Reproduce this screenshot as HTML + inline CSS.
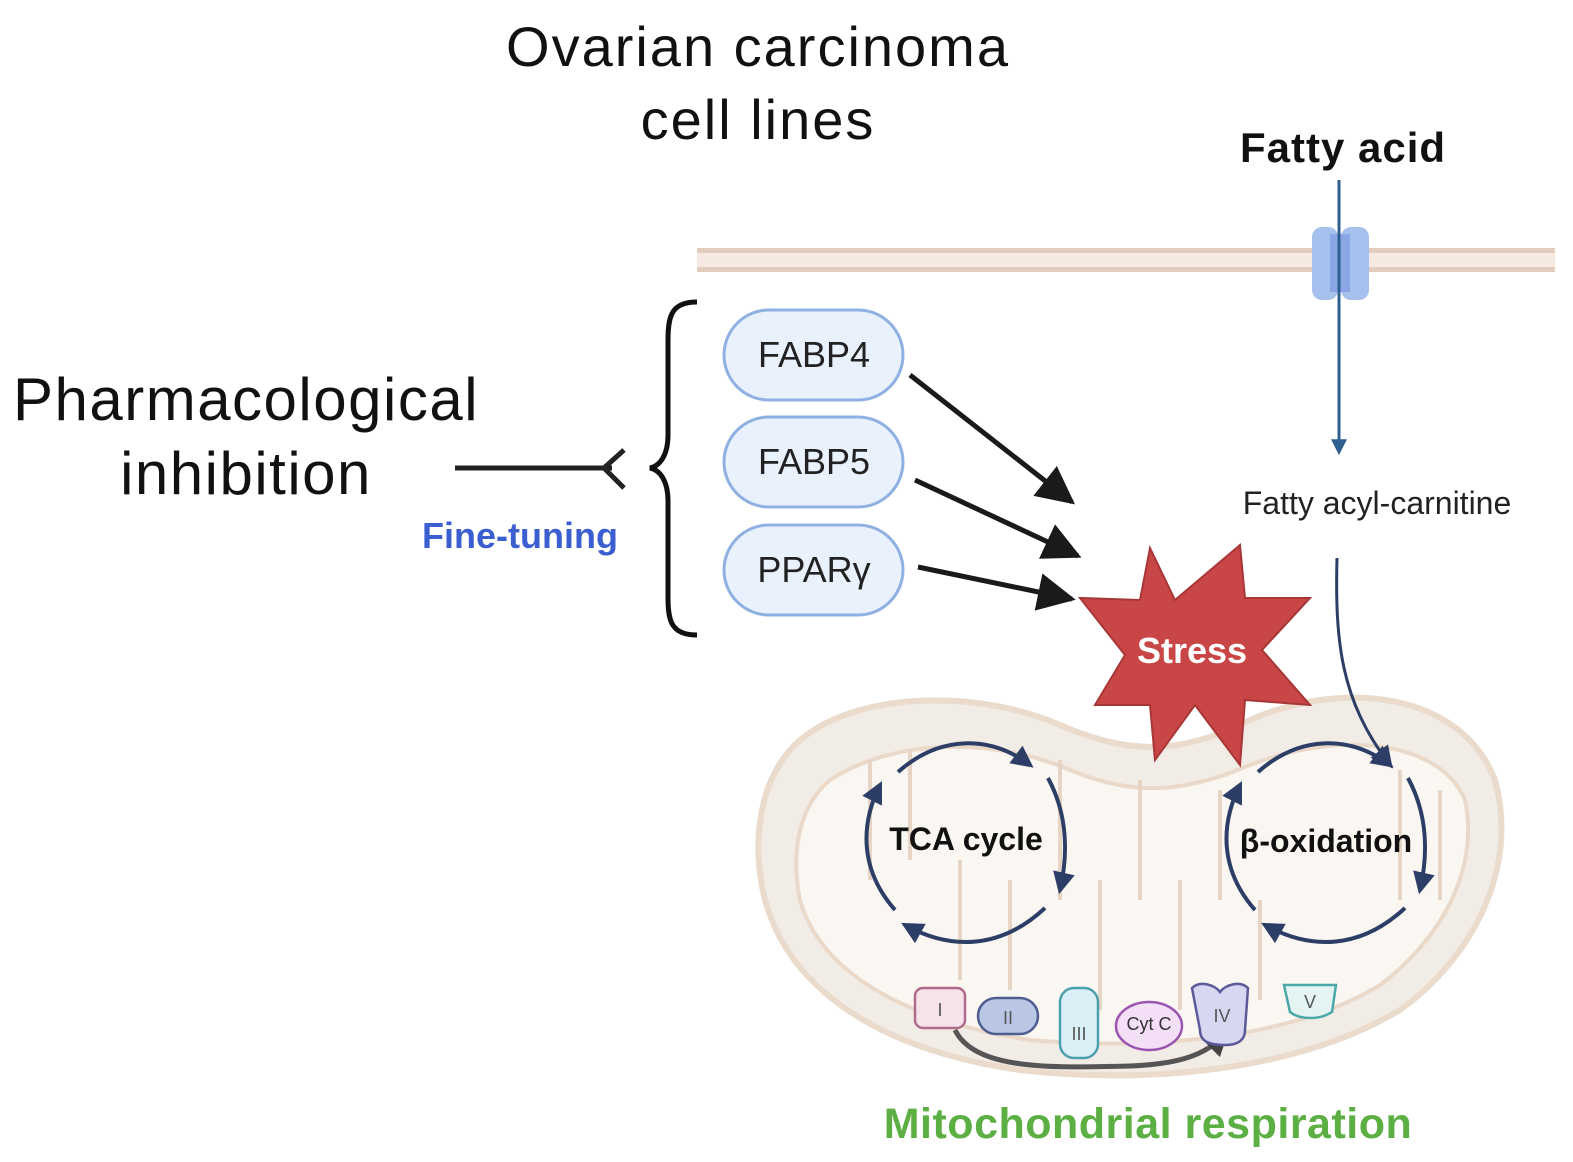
<!DOCTYPE html>
<html><head><meta charset="utf-8"><style>
body{margin:0;background:#fff}
svg{display:block}
text{font-family:"Liberation Sans","DejaVu Sans",sans-serif}
</style></head><body>
<svg width="1573" height="1162" viewBox="0 0 1573 1162" xmlns="http://www.w3.org/2000/svg">
<defs>
<marker id="big" viewBox="0 0 10 10" refX="9" refY="5" markerWidth="38" markerHeight="38" orient="auto" markerUnits="userSpaceOnUse"><path d="M0,0 L10,5 L0,10z" fill="#1a1a1a"/></marker>
<marker id="nv" viewBox="0 0 10 10" refX="8" refY="5" markerWidth="22" markerHeight="22" orient="auto" markerUnits="userSpaceOnUse"><path d="M0,0 L10,5 L0,10z" fill="#2c3e66"/></marker>
<marker id="bl" viewBox="0 0 10 10" refX="8" refY="5" markerWidth="16" markerHeight="16" orient="auto" markerUnits="userSpaceOnUse"><path d="M0,0 L10,5 L0,10z" fill="#2f5f8f"/></marker>
<marker id="gy" viewBox="0 0 10 10" refX="8" refY="5" markerWidth="24" markerHeight="24" orient="auto" markerUnits="userSpaceOnUse"><path d="M0,0 L10,5 L0,10z" fill="#444"/></marker>
</defs>

<text x="758" y="66" font-size="56" letter-spacing="2" text-anchor="middle" fill="#111">Ovarian carcinoma</text>
<text x="758" y="139" font-size="56" letter-spacing="2" text-anchor="middle" fill="#111">cell lines</text>
<text x="1343" y="162" font-size="42" font-weight="bold" letter-spacing="1" text-anchor="middle" fill="#111">Fatty acid</text>

<rect x="697" y="248" width="858" height="24" fill="#f6e9e2"/>
<rect x="697" y="248" width="858" height="5" fill="#e3cbbd"/>
<rect x="697" y="267" width="858" height="5" fill="#e3cbbd"/>
<rect x="1312" y="227" width="26" height="73" rx="10" fill="#a7c1ee"/>
<rect x="1341" y="227" width="28" height="73" rx="10" fill="#a7c1ee"/>
<rect x="1330" y="234" width="20" height="58" fill="#8aa6e6"/>
<line x1="1339" y1="180" x2="1339" y2="452" stroke="#2f5f8f" stroke-width="3" marker-end="url(#bl)"/>
<text x="1377" y="514" font-size="32" text-anchor="middle" fill="#222">Fatty acyl-carnitine</text>

<text x="246" y="420" font-size="60" letter-spacing="1.5" text-anchor="middle" fill="#111">Pharmacological</text>
<text x="246" y="494" font-size="60" letter-spacing="1.5" text-anchor="middle" fill="#111">inhibition</text>
<text x="520" y="548" font-size="36" font-weight="bold" text-anchor="middle" fill="#3b5fd0">Fine-tuning</text>
<line x1="455" y1="468" x2="612" y2="468" stroke="#222" stroke-width="5"/>
<path d="M624,450 L604,468 L624,488" fill="none" stroke="#222" stroke-width="5"/>
<path d="M697,302 C672,302 668,315 668,340 L668,435 C668,455 660,466 650,468 C660,470 668,481 668,501 L668,598 C668,622 672,635 697,635" fill="none" stroke="#111" stroke-width="5"/>

<g fill="#e9f1fc" stroke="#8fb0e2" stroke-width="3">
<rect x="724" y="310" width="179" height="90" rx="45"/>
<rect x="724" y="417" width="179" height="90" rx="45"/>
<rect x="724" y="525" width="179" height="90" rx="45"/>
</g>
<g font-size="36" text-anchor="middle" fill="#222">
<text x="814" y="367">FABP4</text>
<text x="814" y="474">FABP5</text>
<text x="814" y="582">PPARγ</text>
</g>
<g stroke="#1a1a1a" stroke-width="5">
<line x1="910" y1="375" x2="1072" y2="502" marker-end="url(#big)"/>
<line x1="915" y1="480" x2="1078" y2="556" marker-end="url(#big)"/>
<line x1="918" y1="567" x2="1072" y2="599" marker-end="url(#big)"/>
</g>

<path d="M800,740 C860,690 980,690 1060,725 C1130,755 1180,755 1250,720 C1340,680 1460,690 1495,780 C1520,870 1470,960 1400,1010 C1300,1070 1150,1085 1020,1070 C880,1050 790,990 765,900 C750,840 760,775 800,740 Z" fill="#f2ece6" stroke="#eadbcd" stroke-width="6"/>
<path d="M830,780 C900,735 1000,740 1070,770 C1130,795 1180,795 1250,765 C1340,730 1440,740 1465,800 C1480,870 1440,940 1380,985 C1290,1040 1150,1050 1030,1040 C900,1020 820,970 800,900 C790,850 800,805 830,780 Z" fill="#faf7f3" stroke="#ead9c9" stroke-width="4"/>
<g fill="none" stroke="#e6d5c5" stroke-width="4">
<path d="M870,760 L870,880 M910,750 L910,860 M960,980 L960,860 M1010,990 L1010,880 M1060,760 L1060,900 M1100,1010 L1100,880 M1140,780 L1140,900 M1180,1010 L1180,880 M1220,790 L1220,900 M1400,770 L1400,900 M1440,790 L1440,900 M1260,1000 L1260,900"/>
</g>

<path d="M1150,548 L1175,600 L1240,545 L1245,598 L1310,598 L1262,650 L1310,705 L1245,700 L1240,765 L1195,705 L1155,760 L1150,705 L1095,705 L1125,655 L1080,598 L1140,600 Z" fill="#c94646" stroke="#a83636" stroke-width="2"/>
<text x="1192" y="663" font-size="36" font-weight="bold" text-anchor="middle" fill="#fff">Stress</text>

<path d="M1337,558 C1335,640 1340,700 1390,765" fill="none" stroke="#2c3e66" stroke-width="3" marker-end="url(#nv)"/>

<g fill="none" stroke="#2c3e66" stroke-width="4">
<path d="M898,772 C940,735 990,735 1030,765" marker-end="url(#nv)"/>
<path d="M1048,778 C1068,815 1068,855 1060,890" marker-end="url(#nv)"/>
<path d="M1045,908 C1000,950 950,950 905,925" marker-end="url(#nv)"/>
<path d="M895,910 C860,870 860,825 880,785" marker-end="url(#nv)"/>
<path d="M1258,772 C1300,735 1350,735 1390,765" marker-end="url(#nv)"/>
<path d="M1408,778 C1428,815 1428,855 1420,890" marker-end="url(#nv)"/>
<path d="M1405,908 C1360,950 1310,950 1265,925" marker-end="url(#nv)"/>
<path d="M1255,910 C1220,870 1220,825 1240,785" marker-end="url(#nv)"/>
</g>
<text x="966" y="850" font-size="32" font-weight="bold" text-anchor="middle" fill="#111">TCA cycle</text>
<text x="1326" y="852" font-size="32" font-weight="bold" text-anchor="middle" fill="#111">β-oxidation</text>

<path d="M955,1030 C975,1070 1050,1068 1130,1066 C1180,1064 1205,1055 1225,1035" fill="none" stroke="#555" stroke-width="5" marker-end="url(#gy)"/>
<rect x="915" y="988" width="50" height="40" rx="8" fill="#f6e2ea" stroke="#b06a8a" stroke-width="2.5"/>
<text x="940" y="1016" font-size="18" text-anchor="middle" fill="#555">I</text>
<rect x="978" y="998" width="60" height="36" rx="18" fill="#b9c6e6" stroke="#4e5e90" stroke-width="2.5"/>
<text x="1008" y="1024" font-size="18" text-anchor="middle" fill="#555">II</text>
<rect x="1060" y="988" width="38" height="70" rx="14" fill="#dbf0f6" stroke="#4d9fae" stroke-width="2.5"/>
<text x="1079" y="1040" font-size="18" text-anchor="middle" fill="#555">III</text>
<ellipse cx="1149" cy="1026" rx="33" ry="24" fill="#f3dff6" stroke="#9b55b0" stroke-width="2.5"/>
<text x="1149" y="1030" font-size="18" text-anchor="middle" fill="#333">Cyt C</text>
<path d="M1192,988 C1200,980 1215,985 1220,992 C1225,985 1240,980 1248,988 L1245,1030 C1245,1042 1235,1045 1225,1045 C1210,1045 1200,1042 1200,1030 Z" fill="#d7d7f1" stroke="#5a5a9a" stroke-width="2.5"/>
<text x="1222" y="1022" font-size="18" text-anchor="middle" fill="#555">IV</text>
<path d="M1284,985 L1336,985 L1332,1012 C1320,1020 1300,1020 1290,1012 Z" fill="#e3f4f3" stroke="#4aa8a8" stroke-width="2.5"/>
<text x="1310" y="1008" font-size="18" text-anchor="middle" fill="#555">V</text>

<text x="1148" y="1138" font-size="43" font-weight="bold" letter-spacing="0.5" text-anchor="middle" fill="#5cb043">Mitochondrial respiration</text>
</svg>
</body></html>
